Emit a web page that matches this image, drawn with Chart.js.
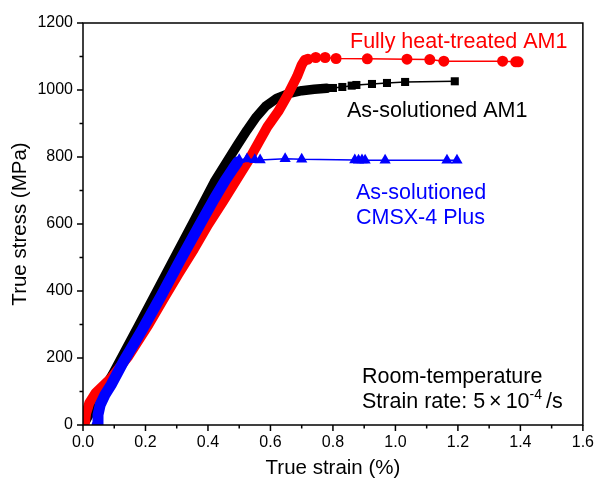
<!DOCTYPE html>
<html><head><meta charset="utf-8">
<script src="https://cdn.jsdelivr.net/npm/chart.js@4.4.1/dist/chart.umd.min.js"></script>
<style>html,body{margin:0;padding:0;background:#fff;}canvas{display:block;}</style>
</head><body>
<canvas id="c" width="596" height="482"></canvas>
<script>
// ---- tick labels ----
const xTickValues = [0, 0.2, 0.4, 0.6, 0.8, 1.0, 1.2, 1.4, 1.6];
const xTickLabels = ['0.0', '0.2', '0.4', '0.6', '0.8', '1.0', '1.2', '1.4', '1.6'];
const yTickValues = [0, 200, 400, 600, 800, 1000, 1200];
const yTickLabels = ['0', '200', '400', '600', '800', '1000', '1200'];
const xMinorValues = [0.1, 0.3, 0.5, 0.7, 0.9, 1.1, 1.3, 1.5];
const yMinorValues = [100, 300, 500, 700, 900, 1100];

// ---- As-solutioned AM1 (black squares) ----
const am1CurveStrain = [0, 0.01, 0.03, 0.055, 0.094, 0.18, 0.265, 0.35, 0.42, 0.46, 0.495, 0.525, 0.555, 0.585, 0.62, 0.66, 0.70, 0.74, 0.78];
const am1CurveStress = [0, 15, 50, 90, 150, 300, 450, 600, 725, 785, 837, 880, 920, 952, 975, 990, 998, 1002, 1005];
const am1MarkStrain = [0.80, 0.83, 0.86, 0.875, 0.925, 0.973, 1.031, 1.19];
const am1MarkStress = [1006, 1009, 1013, 1015, 1018, 1021, 1024, 1026];

// ---- Fully heat-treated AM1 (red circles) ----
const htCurveStrain = [0.005, 0.01, 0.02, 0.04, 0.09, 0.145, 0.21, 0.26, 0.305, 0.355, 0.40, 0.45, 0.50, 0.53, 0.56, 0.59, 0.625, 0.655, 0.685, 0.70, 0.71];
const htCurveStress = [0, 35, 65, 95, 140, 205, 300, 380, 450, 525, 598, 670, 745, 790, 840, 890, 936, 985, 1040, 1075, 1090];
const htMarkStrain = [0.72, 0.745, 0.775, 0.81, 0.91, 1.037, 1.11, 1.155, 1.343, 1.385, 1.393];
const htMarkStress = [1092, 1097, 1097, 1094, 1093, 1092, 1091, 1086, 1086, 1084, 1084];

// ---- As-solutioned CMSX-4 Plus (blue triangles) ----
const cmsxCurveStrain = [0.045, 0.048, 0.055, 0.07, 0.09, 0.13, 0.19, 0.25, 0.31, 0.375, 0.42, 0.455, 0.48, 0.495];
const cmsxCurveStress = [0, 30, 60, 90, 120, 190, 285, 385, 490, 600, 675, 730, 765, 785];
const cmsxMarkStrain = [0.50, 0.525, 0.55, 0.567, 0.647, 0.70, 0.87, 0.882, 0.893, 0.903, 0.967, 1.165, 1.197];
const cmsxMarkStress = [792, 794, 792, 791, 795, 793, 791, 790, 791, 790, 790, 790, 790];

function pts(xs, ys) { return xs.map((x, i) => ({ x: x, y: ys[i] })); }

function series(label, color, cs, cy, ms, my, style, bandWidth, radius, order) {
  const n = cs.length;
  return {
    label: label,
    data: pts(cs.concat(ms), cy.concat(my)),
    borderColor: color,
    backgroundColor: color,
    pointBackgroundColor: color,
    pointBorderColor: color,
    pointBorderWidth: 0,
    pointStyle: style,
    pointRadius: ctx => (ctx.dataIndex < n ? 0 : radius),
    borderWidth: 1.5,
    borderJoinStyle: 'round',
    borderCapStyle: 'round',
    tension: 0,
    clip: 0,
    order: order,
    segment: {
      borderWidth: ctx => (ctx.p1DataIndex < n ? bandWidth : 1.5)
    }
  };
}

const FONT = "'Liberation Sans', Arial, Helvetica, sans-serif";

const decor = {
  id: 'decor',
  afterDraw(chart) {
    const ctx = chart.ctx;
    const a = chart.chartArea;
    const xs = chart.scales.x, ys = chart.scales.y;
    ctx.save();
    ctx.strokeStyle = '#000';
    ctx.lineWidth = 1.5;
    ctx.strokeRect(a.left, a.top, a.right - a.left, a.bottom - a.top);
    ctx.beginPath();
    xTickValues.forEach(v => { const p = xs.getPixelForValue(v); ctx.moveTo(p, a.bottom); ctx.lineTo(p, a.bottom + 6); });
    xMinorValues.forEach(v => { const p = xs.getPixelForValue(v); ctx.moveTo(p, a.bottom); ctx.lineTo(p, a.bottom + 3.5); });
    yTickValues.forEach(v => { const p = ys.getPixelForValue(v); ctx.moveTo(a.left, p); ctx.lineTo(a.left - 6, p); });
    yMinorValues.forEach(v => { const p = ys.getPixelForValue(v); ctx.moveTo(a.left, p); ctx.lineTo(a.left - 3.5, p); });
    ctx.stroke();

    ctx.textBaseline = 'middle';
    ctx.textAlign = 'left';
    ctx.font = '21.5px ' + FONT;
    ctx.fillStyle = '#FF0000';
    ctx.fillText('Fully heat-treated AM1', 350, 42);
    ctx.fillStyle = '#000000';
    ctx.fillText('As-solutioned AM1', 347, 111.5);
    ctx.fillStyle = '#0000FF';
    ctx.fillText('As-solutioned', 356, 193);
    ctx.fillText('CMSX-4 Plus', 356, 218.5);
    ctx.fillStyle = '#000000';
    ctx.fillText('Room-temperature', 362, 377);
    // Strain rate line with superscript
    let x = 362; const y = 402;
    const parts = [['Strain rate: 5', 21.5, 0, 4], ['\u00D7', 21.5, 0, 4], ['10', 21.5, 0, 0], ['-4', 14, -7, 4], ['/s', 21.5, 0, 0]];
    parts.forEach(p => {
      ctx.font = p[1] + 'px ' + FONT;
      ctx.fillText(p[0], x, y + p[2]);
      x += ctx.measureText(p[0]).width + p[3];
    });
    ctx.restore();
  }
};

new Chart(document.getElementById('c'), {
  type: 'line',
  data: {
    datasets: [
      series('As-solutioned CMSX-4 Plus', '#0000FF', cmsxCurveStrain, cmsxCurveStress, cmsxMarkStrain, cmsxMarkStress, 'triangle', 11, 6.5, 1),
      series('Fully heat-treated AM1', '#FF0000', htCurveStrain, htCurveStress, htMarkStrain, htMarkStress, 'circle', 10, 5.5, 2),
      series('As-solutioned AM1', '#000000', am1CurveStrain, am1CurveStress, am1MarkStrain, am1MarkStress, 'rect', 9.5, 5.7, 3)
    ]
  },
  options: {
    responsive: false,
    devicePixelRatio: 1,
    animation: false,
    layout: { padding: { left: 0, right: 13, top: 23, bottom: 0 } },
    plugins: { legend: { display: false }, tooltip: { enabled: false } },
    scales: {
      x: {
        type: 'linear', min: 0, max: 1.6,
        afterFit: s => { s.height = 57; },
        afterBuildTicks: s => { s.ticks = xTickValues.map(v => ({ value: v })); },
        ticks: { callback: (v) => xTickLabels[xTickValues.indexOf(v)] ?? '', color: '#000', font: { family: FONT, size: 16 }, padding: 2, maxRotation: 0, autoSkip: false },
        grid: { display: true, drawOnChartArea: false, drawTicks: true, tickLength: 6, color: 'rgba(0,0,0,0)' },
        border: { display: false },
        title: { display: true, text: 'True strain (%)', color: '#000', font: { family: FONT, size: 20.5 }, padding: { top: 0, bottom: 1 } }
      },
      y: {
        type: 'linear', min: 0, max: 1200,
        afterFit: s => { s.width = 83; },
        afterBuildTicks: s => { s.ticks = yTickValues.map(v => ({ value: v })); },
        ticks: { callback: (v) => yTickLabels[yTickValues.indexOf(v)] ?? '', color: '#000', font: { family: FONT, size: 16 }, padding: 4, autoSkip: false },
        grid: { display: true, drawOnChartArea: false, drawTicks: true, tickLength: 6, color: 'rgba(0,0,0,0)' },
        border: { display: false },
        title: { display: true, text: 'True stress (MPa)', color: '#000', font: { family: FONT, size: 20.5 }, padding: { top: 8, bottom: 0 } }
      }
    }
  },
  plugins: [decor]
});
</script>
</body></html>
